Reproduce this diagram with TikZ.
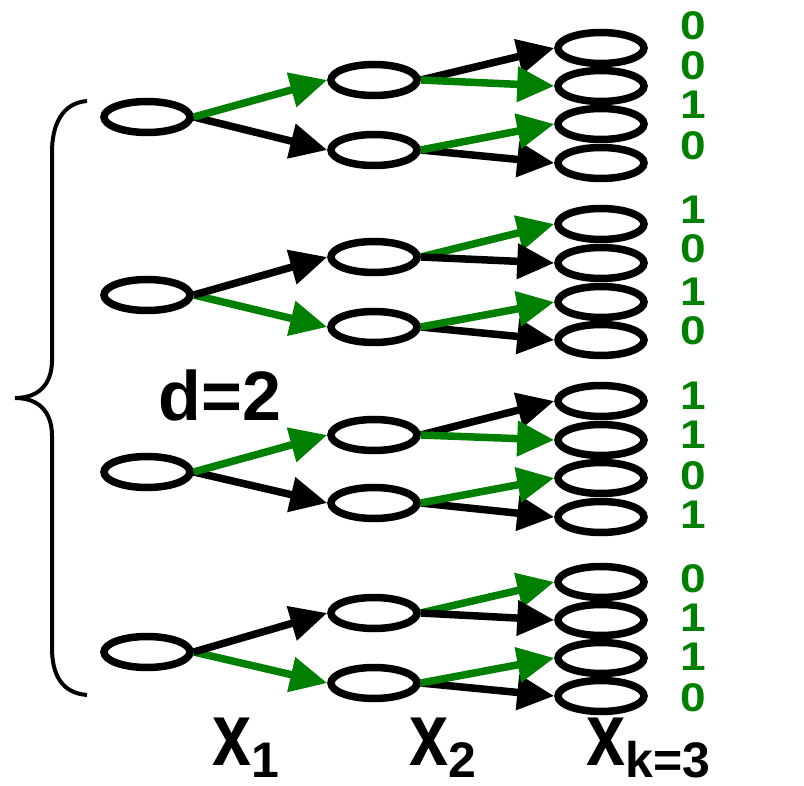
\documentclass[tikz,border=0pt]{standalone}
\usepackage{fontspec}
\usepackage{graphicx}
\setmainfont{Liberation Sans}
\usetikzlibrary{shapes.geometric,arrows.meta}
\definecolor{dgreen}{RGB}{0,128,0}
\newcommand\xmain[1]{{\fontsize{90}{90}\selectfont\bfseries\scalebox{0.78}[1]{#1}}}
\newcommand\xsub[1]{\raisebox{-12pt}{\fontsize{50}{50}\selectfont\bfseries #1}}
\begin{document}
\begin{tikzpicture}[x=1pt,y=-1pt,
  ell/.style={draw, ellipse, line width=7.5pt, minimum width=86pt, minimum height=31pt, inner sep=0pt},
  ga/.style={draw=dgreen, line width=7.5pt, -{Triangle[length=37pt,width=34pt]}},
  ba/.style={draw=black, line width=7.5pt, -{Triangle[length=37pt,width=34pt]}},
  lab/.style={text=dgreen, inner sep=0pt, font=\fontsize{40}{40}\selectfont\bfseries},
  axl/.style={anchor=base west, inner sep=0pt}]
\useasboundingbox (0,0) rectangle (804,786);
% trees
\foreach \t/\ry/\cya/\cyb/\lya/\lyb/\lyc/\lyd/\sa/\sb/\sc/\sd/\se/\sf in {
  1/117/80/150/48/86/124/163/ga/ba/ba/ga/ga/ba,
  2/295/257/327/224/263/302/340/ba/ga/ga/ba/ga/ba,
  3/472/435/503/401/440/478/517/ga/ba/ba/ga/ga/ba,
  4/652/613/683/582/620/658/696/ba/ga/ga/ba/ga/ba}{
  \node[ell] (r\t) at (147,\ry) {};
  \node[ell] (c\t-a) at (374,\cya) {};
  \node[ell] (c\t-b) at (374,\cyb) {};
  \node[ell] (l\t-a) at (601,\lya) {};
  \node[ell] (l\t-b) at (601,\lyb) {};
  \node[ell] (l\t-c) at (601,\lyc) {};
  \node[ell] (l\t-d) at (601,\lyd) {};
  \draw[\sb] (r\t.east) -- (c\t-b.west);
  \draw[\sa] (r\t.east) -- (c\t-a.west);
  \draw[\sc] (c\t-a.east) -- (l\t-a.west);
  \draw[\sd] (c\t-a.east) -- (l\t-b.west);
  \draw[\sf] (c\t-b.east) -- (l\t-d.west);
  \draw[\se] (c\t-b.east) -- (l\t-c.west);
}
% leaf labels
\foreach \i/\y/\v in {1/26/0,2/66/0,3/105/1,4/146/0,
  5/210/1,6/249/0,7/292/1,8/331/0,
  9/396/1,10/435/1,11/476/0,12/515/1,
  13/579/0,14/618/1,15/657/1,16/698/0}{
  \node[lab] (v\i) at (693,\y) {\scalebox{1.15}[1]{\v}};
}
% brace
\draw[line width=4pt] (87,101) .. controls (62,103) and (52,125) .. (52,152)
  -- (52,360) .. controls (52,385) and (38,398) .. (15,398)
  .. controls (38,398) and (52,411) .. (52,436)
  -- (52,648) .. controls (52,675) and (62,693) .. (87,695);
\node[anchor=base, inner sep=0pt, font=\fontsize{70}{70}\selectfont\bfseries] (d) at (220,421) {d=2};
\node[axl] (x1) at (212,765) {\xmain{x}\xsub{1}};
\node[axl] (x2) at (409,765) {\xmain{x}\xsub{2}};
\node[axl] (x3) at (586,765) {\xmain{x}\xsub{k=3}};
\end{tikzpicture}
\end{document}
